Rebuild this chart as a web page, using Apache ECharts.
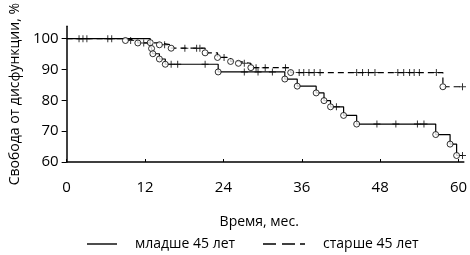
<!DOCTYPE html>
<html>
<head>
<meta charset="utf-8">
<script src="https://cdn.jsdelivr.net/npm/echarts@6/dist/echarts.min.js"></script>
<style>html,body{margin:0;padding:0;background:#fff}#c{width:470px;height:255px}</style>
</head>
<body>
<div id="c"></div>
<script>
const xTicks = [0, 12, 24, 36, 48, 60];
const yTicks = [60, 70, 80, 90, 100];
const seriesNames = ['младше 45 лет', 'старше 45 лет'];
// [month, survival %] at each event (circle), survival after the drop
const youngEvents = [[12.8,98.7],[13.0,96.8],[13.2,95.1],[14.2,93.4],[15.1,91.7],[23.2,89.2],[33.4,86.9],[35.3,84.6],[38.2,82.4],[39.4,79.9],[40.4,77.9],[42.4,75.1],[44.4,72.3],[56.5,68.9],[58.7,65.8],[59.7,62.1]];
// censored observations (plus signs)
const youngCensored = [[6.3,100],[6.9,100],[16.0,91.7],[17.0,91.7],[21.2,91.7],[27.2,89.2],[29.3,89.2],[31.5,89.2],[41.3,77.9],[47.5,72.3],[50.4,72.3],[53.7,72.3],[54.7,72.3],[60.6,62.1]];
const oldEvents = [[9.0,99.4],[10.9,98.6],[14.2,98.0],[16.0,96.9],[21.2,95.4],[23.1,93.9],[25.1,92.6],[26.3,92.0],[28.2,90.6],[34.3,89.0],[57.6,84.4]];
const oldCensored = [[1.9,100],[2.5,100],[3.1,100],[9.8,99.4],[11.8,98.6],[15.0,98.0],[18.1,96.9],[19.9,96.9],[20.4,96.9],[24.1,93.9],[27.2,92.0],[29.0,90.6],[30.4,90.6],[33.5,90.6],[35.6,89.0],[36.3,89.0],[37.1,89.0],[37.9,89.0],[38.8,89.0],[44.4,89.0],[45.3,89.0],[46.2,89.0],[47.2,89.0],[50.7,89.0],[51.6,89.0],[52.5,89.0],[53.2,89.0],[54.0,89.0],[56.6,89.0],[60.6,84.4]];

function stepLine(events, censored) {
  return [[0, 100]].concat(events, [censored[censored.length - 1]]);
}
const FONT = 'Open Sans';
const plusPath = 'path://M3,0H4V3H7V4H4V7H3V4H0V3H3Z';
const circleStyle = { color: '#fff', borderColor: '#000', borderWidth: 1 };

const chart = echarts.init(document.getElementById('c'), null, { renderer: 'canvas' });
chart.setOption({
  animation: false,
  backgroundColor: '#fff',
  textStyle: { fontFamily: FONT, color: '#000' },
  grid: { left: 55, right: 2, top: 5, bottom: 93 },
  legend: [
    {
      left: 87, top: 237, padding: 0, itemWidth: 30, itemHeight: 14,
      data: [{ name: seriesNames[0], icon: 'path://M0,0H30V1.4H0Z' }],
      textStyle: { fontFamily: FONT, fontSize: 14, color: '#000', padding: [0, 0, 0, 13] },
      selectedMode: false
    },
    {
      left: 263, top: 237, padding: 0, itemWidth: 42, itemHeight: 14,
      data: [{ name: seriesNames[1], icon: 'path://M0,0H13V1.4H0Z M19,0H32V1.4H19Z M37,0H42V1.4H37Z' }],
      textStyle: { fontFamily: FONT, fontSize: 14, color: '#000', padding: [0, 0, 0, 13] },
      selectedMode: false
    }
  ],
  xAxis: {
    type: 'value', min: 0, max: 60.8,
    name: 'Время, мес.', nameLocation: 'middle', nameGap: 53,
    nameTextStyle: { fontFamily: FONT, fontSize: 14, color: '#000', padding: [0, 12, 0, 0] },
    axisLine: { lineStyle: { color: '#000', width: 1.5 } },
    axisTick: { inside: true, length: 3, customValues: xTicks, lineStyle: { color: '#000' } },
    axisLabel: { customValues: xTicks, margin: 18, fontFamily: FONT, fontSize: 15, color: '#000' },
    splitLine: { show: false }
  },
  yAxis: {
    type: 'value', min: 60, max: 104,
    name: 'Свобода от дисфункции, %', nameLocation: 'middle', nameGap: 43,
    nameTextStyle: { fontFamily: FONT, fontSize: 14, color: '#000' },
    axisLine: { show: true, lineStyle: { color: '#000', width: 1.5 } },
    axisTick: { show: true, length: 5, customValues: yTicks, lineStyle: { color: '#000' } },
    axisLabel: { customValues: yTicks, margin: 8, fontFamily: FONT, fontSize: 15, color: '#000' },
    splitLine: { show: false }
  },
  series: [
    { name: seriesNames[0], type: 'line', step: 'end', symbol: 'none', color: '#000',
      lineStyle: { color: '#000', width: 1.2 }, data: stepLine(youngEvents, youngCensored), z: 2 },
    { name: seriesNames[1], type: 'line', step: 'end', symbol: 'none', color: '#000',
      lineStyle: { color: '#000', width: 1.2, type: [6, 4] }, data: stepLine(oldEvents, oldCensored), z: 2 },
    { type: 'scatter', symbol: 'circle', symbolSize: 6, itemStyle: circleStyle, data: youngEvents, z: 4 },
    { type: 'scatter', symbol: 'circle', symbolSize: 6, itemStyle: circleStyle, data: oldEvents, z: 4 },
    { type: 'scatter', symbol: plusPath, symbolSize: 7, itemStyle: { color: '#000' }, data: youngCensored, z: 3 },
    { type: 'scatter', symbol: plusPath, symbolSize: 7, itemStyle: { color: '#000' }, data: oldCensored, z: 3 }
  ]
});
</script>
</body>
</html>
